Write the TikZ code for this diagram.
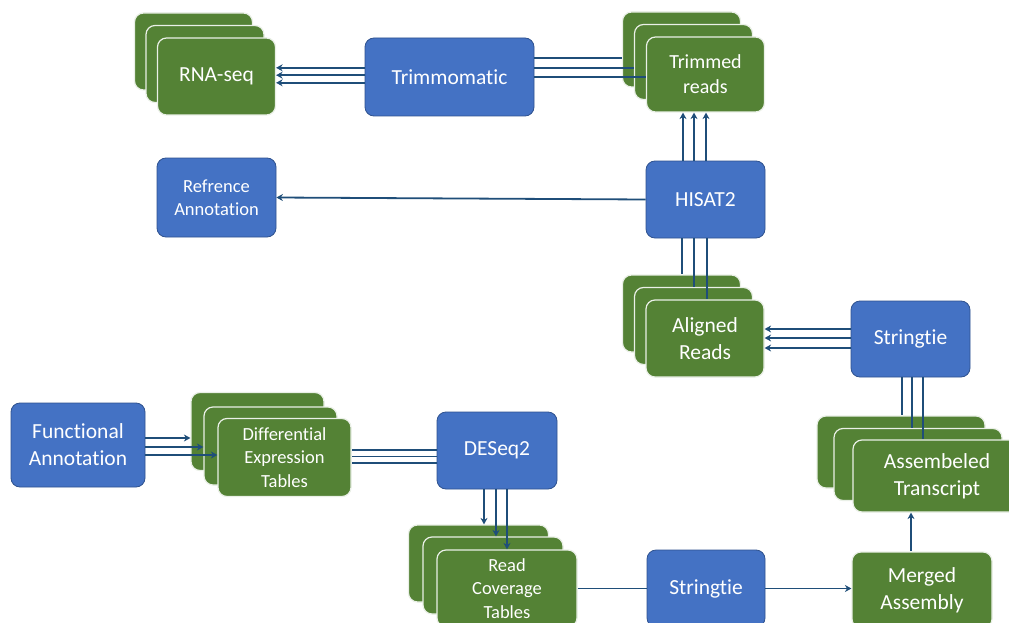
\documentclass[tikz,border=0pt]{standalone}
\usepackage{fontspec}
\setmainfont{Carlito}[Ligatures={NoCommon}]
\usetikzlibrary{arrows.meta}
\definecolor{boxblue}{HTML}{4472C4}
\definecolor{boxline}{HTML}{2F528F}
\definecolor{cardgreen}{HTML}{548235}
\definecolor{connblue}{HTML}{1F4E79}
\begin{document}
\begin{tikzpicture}[x=1pt,y=-1pt,
 box/.style={rectangle, rounded corners=9pt, fill=boxblue, draw=boxline, line width=0.8pt, text=white, align=center, inner sep=0pt},
 card/.style={rectangle, rounded corners=9pt, fill=cardgreen, draw=white!88!cardgreen, line width=1.2pt, text=white, align=center, inner sep=0pt},
 big/.style={font=\fontsize{21.5}{27}\selectfont},
 mid/.style={font=\fontsize{20}{25}\selectfont},
 small/.style={font=\fontsize{18.5}{23.5}\selectfont},
 conn/.style={draw=connblue, line width=1.8pt},
 tip/.style={conn, {Stealth[length=6.5pt,width=7pt]}-}
]
\useasboundingbox (0,0) rectangle (1009,623);
\fill[white] (0,0) rectangle (1009,623);
\clip (0,0) rectangle (1009,623);

% ---------- nodes ----------
% RNA-seq stack
\node[card, minimum width=118pt, minimum height=77pt] (rna1) at (193.5,51.5) {};
\node[card, minimum width=118pt, minimum height=77pt] (rna2) at (205,64) {};
\node[card, big, minimum width=118pt, minimum height=77pt] (rna3) at (216.5,76.5) {RNA-seq};
% Trimmomatic
\node[box, big, minimum width=169pt, minimum height=78pt] (trim) at (449.5,77) {Trimmomatic};
% Trimmed reads stack
\node[card, minimum width=118pt, minimum height=75pt] (tr1) at (681.5,49.5) {};
\node[card, minimum width=118pt, minimum height=75pt] (tr2) at (693.5,62) {};
\node[card, mid, minimum width=118pt, minimum height=75pt] (tr3) at (705.5,74.5) {Trimmed\\reads};
% HISAT2
\node[box, big, minimum width=119pt, minimum height=77pt] (his) at (705.5,199.5) {HISAT2};
% Reference annotation
\node[box, small, minimum width=119pt, minimum height=79pt] (ref) at (216.5,197.5) {Refrence\\Annotation};
% Aligned reads stack
\node[card, minimum width=118pt, minimum height=77pt] (al1) at (681.5,313.5) {};
\node[card, minimum width=118pt, minimum height=77pt] (al2) at (693.5,326) {};
\node[card, big, minimum width=118pt, minimum height=77pt] (al3) at (705,338.5) {Aligned\\Reads};
% Stringtie (upper)
\node[box, big, minimum width=119pt, minimum height=76pt] (st1) at (910.5,339) {Stringtie};
% Assembled transcript stack
\node[card, minimum width=168pt, minimum height=72pt] (as1) at (901,452) {};
\node[card, minimum width=168pt, minimum height=72pt] (as2) at (918,464.5) {};
\node[card, big, minimum width=168pt, minimum height=72pt] (as3) at (937,476) {Assembeled\\Transcript};
% Merged assembly
\node[card, big, minimum width=140pt, minimum height=76pt] (mer) at (922,590) {Merged\\Assembly};
% Stringtie (lower)
\node[box, big, minimum width=118pt, minimum height=77pt] (st2) at (706,588.5) {Stringtie};
% Read coverage stack
\node[card, minimum width=140pt, minimum height=77pt] (rc1) at (478.5,563.5) {};
\node[card, minimum width=140pt, minimum height=77pt] (rc2) at (493,575.5) {};
\node[card, small, minimum width=140pt, minimum height=77pt] (rc3) at (507,588.5) {Read\\Coverage\\Tables};
% DESeq2
\node[box, big, minimum width=120pt, minimum height=77pt] (deq) at (497,450.5) {DESeq2};
% Differential expression stack
\node[card, minimum width=133pt, minimum height=78pt] (df1) at (257.5,431.5) {};
\node[card, minimum width=133pt, minimum height=78pt] (df2) at (270.5,446) {};
\node[card, small, minimum width=133pt, minimum height=78pt] (df3) at (284.5,457.5) {Differential\\Expression\\Tables};
% Functional annotation
\node[box, big, minimum width=134pt, minimum height=84pt] (fa) at (78,445) {Functional\\Annotation};

% ---------- connectors ----------
% Trimmomatic -> RNA-seq
\foreach \s in {8.7,1.3,-6.3}
  \draw[tip] ([yshift=\s pt]rna3.east) -- ([yshift=\s pt]rna3.east -| trim.west);
% Trimmomatic -> Trimmed reads
\draw[conn] ([yshift=18.7pt]trim.east) -- ([yshift=18.7pt]trim.east -| tr1.west);
\draw[conn] ([yshift=9.3pt]trim.east) -- ([yshift=9.3pt]trim.east -| tr2.west);
\draw[conn] ([yshift=0.3pt]trim.east) -- ([yshift=0.3pt]trim.east -| tr3.west);
% HISAT2 -> Trimmed reads
\foreach \s in {-22.5,-11.5,0.5}
  \draw[tip] ([xshift=\s pt]tr3.south) -- ([xshift=\s pt]tr3.south |- his.north);
% HISAT2 -> Reference annotation
\draw[tip] (ref.east) -- (his.west);
% HISAT2 -> Aligned reads
\draw[conn] ([xshift=-23.5pt]his.south) -- ([xshift=-23.5pt]his.south |- al1.north);
\draw[conn] ([xshift=-11.5pt]his.south) -- ([xshift=-11.5pt]his.south |- al2.north);
\draw[conn] ([xshift=1.5pt]his.south) -- ([xshift=1.5pt]his.south |- al3.north);
% Stringtie -> Aligned reads
\foreach \s in {10,1,-9}
  \draw[tip] ([yshift=\s pt]st1.west -| al3.east) -- ([yshift=\s pt]st1.west);
% Stringtie -> Assembled transcript
\draw[conn] ([xshift=-8.5pt]st1.south) -- ([xshift=-8.5pt]st1.south |- as1.north);
\draw[conn] ([xshift=1.5pt]st1.south) -- ([xshift=1.5pt]st1.south |- as2.north);
\draw[conn] ([xshift=12.5pt]st1.south) -- ([xshift=12.5pt]st1.south |- as3.north);
% Merged -> Assembled
\draw[tip] ([xshift=-11pt]mer.north |- as3.south) -- ([xshift=-11pt]mer.north);
% Stringtie -> Merged
\draw[tip] (st2.east -| mer.west) -- (st2.east);
% Read coverage -- Stringtie
\draw[conn] (rc3.east |- st2.west) -- (st2.west);
% DESeq2 -> Read coverage
\draw[tip] ([xshift=-13pt]deq.south |- rc1.north) -- ([xshift=-13pt]deq.south);
\draw[tip] ([xshift=-1pt]deq.south |- rc2.north) -- ([xshift=-1pt]deq.south);
\draw[tip] ([xshift=10pt]deq.south |- rc3.north) -- ([xshift=10pt]deq.south);
% DESeq2 -- Differential expression
\foreach \s in {0.5,-6,-12.5}
  \draw[conn] ([yshift=\s pt]deq.west) -- ([yshift=\s pt]deq.west -| df3.east);
% Functional annotation <- Differential expression
\draw[tip] ([yshift=7pt]fa.east -| df1.west) -- ([yshift=7pt]fa.east);
\draw[tip] ([yshift=-2pt]fa.east -| df2.west) -- ([yshift=-2pt]fa.east);
\draw[tip] ([yshift=-10pt]fa.east -| df3.west) -- ([yshift=-10pt]fa.east);
\end{tikzpicture}
\end{document}
